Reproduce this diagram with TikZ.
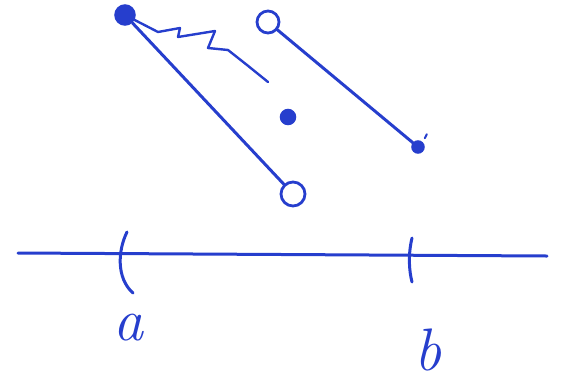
\documentclass[tikz,border=0pt]{standalone}
\usetikzlibrary{positioning,calc}
\definecolor{InkBlue}{RGB}{38,62,205}
\tikzset{
  ink/.style={draw=InkBlue,line width=3pt,line cap=round,line join=round},
  fulldot/.style={circle,draw=InkBlue,fill=InkBlue,line width=1.5pt,inner sep=0pt},
  opendot/.style={circle,draw=InkBlue,line width=2.8pt,inner sep=0pt},
  handlabel/.style={text=InkBlue,font=\fontsize{60}{60}\selectfont\itshape,inner sep=0pt}
}
\begin{document}
\begin{tikzpicture}[x=1pt,y=-1pt]
  \useasboundingbox (0,0) rectangle (562,384);
  % points of the sketch
  \node[fulldot,minimum size=20pt] (pA) at (125,15) {};
  \node[opendot,minimum size=24pt] (pB) at (293,194) {};
  \node[opendot,minimum size=22pt] (pC) at (268,22) {};
  \node[fulldot,minimum size=12pt] (pD) at (418,147) {};
  \node[fulldot,minimum size=15pt] (pM) at (288,117) {};
  \coordinate (zEnd) at (268,82);
  % segments
  \draw[ink] (pA) -- (pB);
  \draw[ink] (pC) -- (pD);
  \draw[ink,line width=2.4pt] (pA) -- (158,32) -- (180,28) -- (178,37) -- (215,31) -- (208,48)
    -- (228,50) -- (247,65) -- (zEnd);
  \draw[ink,line width=2pt] (pD.north east) ++(2,-4) -- ++(2,-4);
  % axis with ticks
  \coordinate (axL) at (18,253);
  \coordinate (axR) at (547,256);
  \draw[ink] (axL) -- (axR);
  \draw[ink] (127,232) .. controls (118,250) and (116,278) .. (133,293);
  \draw[ink] (412,238) .. controls (408,255) and (409,270) .. (412,282);
  \node[handlabel] (lblA) at (128,328) {a};
  \node[handlabel] (lblB) at (428,350) {b};
\end{tikzpicture}
\end{document}
